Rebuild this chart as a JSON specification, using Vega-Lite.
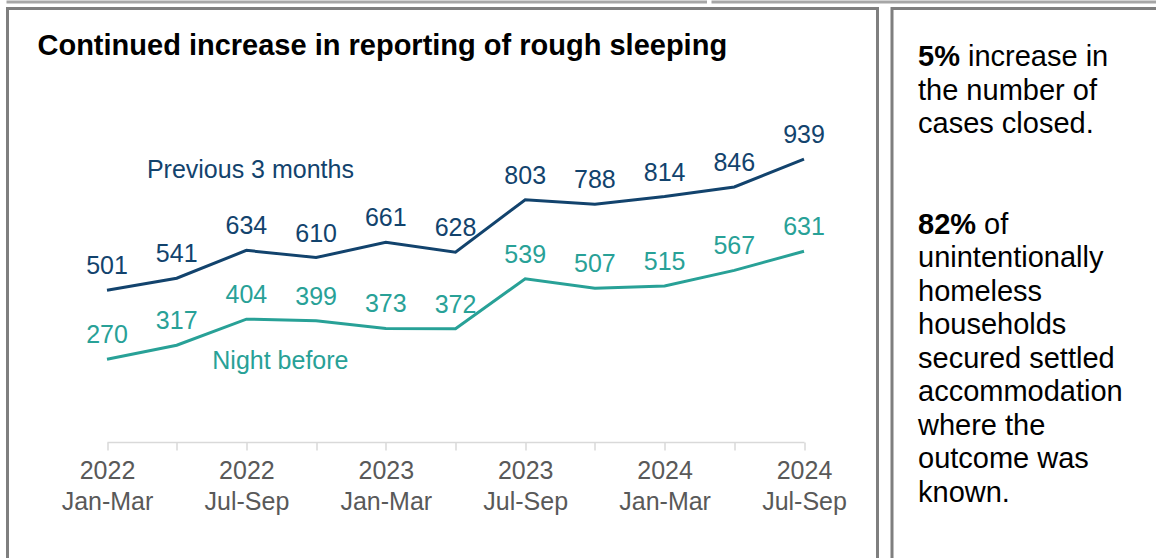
{
  "$schema": "https://vega.github.io/schema/vega-lite/v6.json",
  "padding": {"left": 5.5, "top": 0.5, "right": 0, "bottom": 0},
  "background": "white",
  "config": {"font": "Liberation Sans", "view": {"stroke": null}},
  "datasets": {
    "series": [
      {"quarter": "2022 Jan-Mar", "series": "Previous 3 months", "value": 501},
      {"quarter": "2022 Apr-Jun", "series": "Previous 3 months", "value": 541},
      {"quarter": "2022 Jul-Sep", "series": "Previous 3 months", "value": 634},
      {"quarter": "2022 Oct-Dec", "series": "Previous 3 months", "value": 610},
      {"quarter": "2023 Jan-Mar", "series": "Previous 3 months", "value": 661},
      {"quarter": "2023 Apr-Jun", "series": "Previous 3 months", "value": 628},
      {"quarter": "2023 Jul-Sep", "series": "Previous 3 months", "value": 803},
      {"quarter": "2023 Oct-Dec", "series": "Previous 3 months", "value": 788},
      {"quarter": "2024 Jan-Mar", "series": "Previous 3 months", "value": 814},
      {"quarter": "2024 Apr-Jun", "series": "Previous 3 months", "value": 846},
      {"quarter": "2024 Jul-Sep", "series": "Previous 3 months", "value": 939},
      {"quarter": "2022 Jan-Mar", "series": "Night before", "value": 270},
      {"quarter": "2022 Apr-Jun", "series": "Night before", "value": 317},
      {"quarter": "2022 Jul-Sep", "series": "Night before", "value": 404},
      {"quarter": "2022 Oct-Dec", "series": "Night before", "value": 399},
      {"quarter": "2023 Jan-Mar", "series": "Night before", "value": 373},
      {"quarter": "2023 Apr-Jun", "series": "Night before", "value": 372},
      {"quarter": "2023 Jul-Sep", "series": "Night before", "value": 539},
      {"quarter": "2023 Oct-Dec", "series": "Night before", "value": 507},
      {"quarter": "2024 Jan-Mar", "series": "Night before", "value": 515},
      {"quarter": "2024 Apr-Jun", "series": "Night before", "value": 567},
      {"quarter": "2024 Jul-Sep", "series": "Night before", "value": 631}
    ],
    "panel": [
      {"line": 0, "part": "bold", "text": "5%"},
      {"line": 0, "part": "after5", "text": "increase in"},
      {"line": 1, "part": "plain", "text": "the number of"},
      {"line": 2, "part": "plain", "text": "cases closed."},
      {"line": 5, "part": "bold", "text": "82%"},
      {"line": 5, "part": "after82", "text": "of"},
      {"line": 6, "part": "plain", "text": "unintentionally"},
      {"line": 7, "part": "plain", "text": "homeless"},
      {"line": 8, "part": "plain", "text": "households"},
      {"line": 9, "part": "plain", "text": "secured settled"},
      {"line": 10, "part": "plain", "text": "accommodation"},
      {"line": 11, "part": "plain", "text": "where the"},
      {"line": 12, "part": "plain", "text": "outcome was"},
      {"line": 13, "part": "plain", "text": "known."}
    ]
  },
  "spacing": 7,
  "bounds": "flush",
  "vconcat": [
    {
      "spacing": 6,
      "bounds": "flush",
      "hconcat": [
        {"width": 698.5, "height": 1, "data": {"values": []}, "mark": "point", "encoding": {}, "view": {"stroke": "#A6A6A6", "strokeWidth": 2}},
        {"width": 500, "height": 1, "data": {"values": []}, "mark": "point", "encoding": {}, "view": {"stroke": "#A6A6A6", "strokeWidth": 2}}
      ]
    },
    {
      "spacing": 14.5,
      "bounds": "flush",
      "hconcat": [
        {
          "width": 870,
          "height": 600,
          "view": {"stroke": "#7F7F7F", "strokeWidth": 3},
          "title": {
            "text": "Continued increase in reporting of rough sleeping",
            "anchor": "start",
            "frame": "group",
            "fontSize": 29,
            "fontWeight": "bold",
            "font": "Liberation Sans",
            "color": "#000000",
            "offset": 0,
            "baseline": "alphabetic",
            "dx": 30,
            "dy": 75.5
          },
          "data": {"name": "series"},
          "encoding": {
            "x": {
              "field": "quarter",
              "type": "ordinal",
              "scale": {
                "type": "point",
                "domain": ["2022 Jan-Mar", "2022 Apr-Jun", "2022 Jul-Sep", "2022 Oct-Dec", "2023 Jan-Mar", "2023 Apr-Jun", "2023 Jul-Sep", "2023 Oct-Dec", "2024 Jan-Mar", "2024 Apr-Jun", "2024 Jul-Sep"],
                "range": [99.5, 796.5],
                "padding": 0
              },
              "axis": {
                "title": null,
                "orient": "bottom",
                "offset": -166.5,
                "grid": false,
                "domainColor": "#D9D9D9",
                "domainWidth": 1.5,
                "tickColor": "#D9D9D9",
                "tickWidth": 1.5,
                "tickSize": 8,
                "labelColor": "#595959",
                "labelFont": "Liberation Sans",
                "labelFontSize": 25,
                "labelLineHeight": 31,
                "labelPadding": 8,
                "labelAngle": 0,
                "labelOverlap": false,
                "labelExpr": "indexof(datum.value, 'Apr') >= 0 || indexof(datum.value, 'Oct') >= 0 ? '' : split(datum.value, ' ')"
              }
            },
            "y": {
              "field": "value",
              "type": "quantitative",
              "scale": {"domain": [0, 1000], "range": [431.5, 132.4], "nice": false, "zero": false},
              "axis": null
            },
            "color": {
              "field": "series",
              "type": "nominal",
              "scale": {"domain": ["Previous 3 months", "Night before"], "range": ["#12436D", "#28A197"]},
              "legend": null
            }
          },
          "layer": [
            {"mark": {"type": "line", "strokeWidth": 3}},
            {
              "mark": {"type": "text", "fontSize": 25, "baseline": "middle", "align": "center", "dy": -24},
              "encoding": {"text": {"field": "value", "type": "quantitative"}}
            },
            {
              "data": {"values": [{"quarter": "2022 Jul-Sep", "series": "Previous 3 months", "value": 903, "label": "Previous 3 months"}]},
              "mark": {"type": "text", "fontSize": 25, "baseline": "middle", "align": "center", "dx": 4},
              "encoding": {"text": {"field": "label"}}
            },
            {
              "data": {"values": [{"quarter": "2022 Jul-Sep", "series": "Night before", "value": 264, "label": "Night before"}]},
              "mark": {"type": "text", "fontSize": 25, "baseline": "middle", "align": "center", "dx": 34},
              "encoding": {"text": {"field": "label"}}
            }
          ]
        },
        {
          "width": 300,
          "height": 600,
          "view": {"stroke": "#7F7F7F", "strokeWidth": 3},
          "data": {"name": "panel"},
          "encoding": {
            "x": {"datum": 0, "type": "quantitative", "scale": {"domain": [0, 1], "range": [26, 300]}, "axis": null},
            "y": {"field": "line", "type": "quantitative", "scale": {"domain": [0, 13], "range": [48.5, 484], "nice": false, "zero": false}, "axis": null},
            "text": {"field": "text"}
          },
          "layer": [
            {"transform": [{"filter": "datum.part == 'plain'"}], "mark": {"type": "text", "align": "left", "baseline": "middle", "fontSize": 29, "color": "#000000"}},
            {"transform": [{"filter": "datum.part == 'bold'"}], "mark": {"type": "text", "align": "left", "baseline": "middle", "fontSize": 29, "fontWeight": "bold", "color": "#000000"}},
            {"transform": [{"filter": "datum.part == 'after5'"}], "mark": {"type": "text", "align": "left", "baseline": "middle", "fontSize": 29, "color": "#000000", "dx": 50}},
            {"transform": [{"filter": "datum.part == 'after82'"}], "mark": {"type": "text", "align": "left", "baseline": "middle", "fontSize": 29, "color": "#000000", "dx": 66}}
          ]
        }
      ]
    }
  ]
}
